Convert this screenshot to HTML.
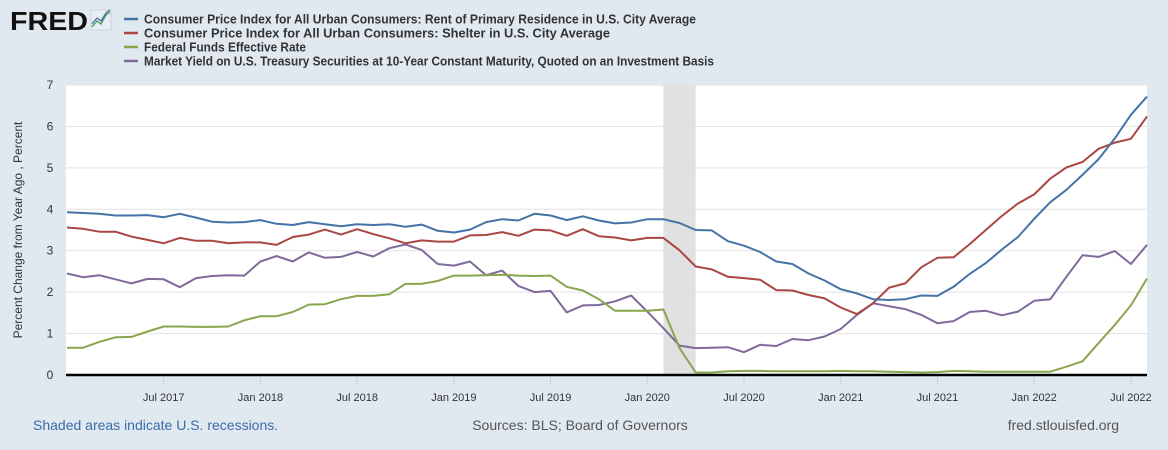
<!DOCTYPE html>
<html><head><meta charset="utf-8">
<style>
body{margin:0;background:#e1e9f0;font-family:"Liberation Sans",sans-serif;}
svg{display:block}
</style></head>
<body>
<svg id="chart" width="1168" height="450" xmlns="http://www.w3.org/2000/svg" font-family="Liberation Sans, sans-serif">
  <rect width="1168" height="450" fill="#e1e9f0"/>
  <g>
    <text x="10" y="30" font-size="26" font-weight="bold" fill="#111" textLength="78" lengthAdjust="spacingAndGlyphs">FRED</text>
    <rect x="91" y="10" width="20" height="20" fill="#e8eef3" stroke="#c8d2dc"/>
    <polyline points="92,27 97,21 101,24 106,15 110,12" fill="none" stroke="#4a9a5a" stroke-width="1.3"/>
    <polyline points="92,24 97,18 101,21 106,13 110,10" fill="none" stroke="#4572a7" stroke-width="1.3"/>
  </g>
  <g id="legend"></g>
  <rect x="66" y="85" width="1081" height="290" fill="#fff"/>
  <g id="grid"></g>
  <g id="recession"></g>
  <g id="series"></g>
  <line x1="66" x2="1147" y1="375" y2="375" stroke="#000" stroke-width="2.5"/>
  <g id="xticks"></g>
  <g id="yticks"></g>
  <text transform="translate(22,230) rotate(-90)" text-anchor="middle" font-size="12" fill="#333">Percent Change from Year Ago , Percent</text>
  <text x="33" y="430" font-size="14" fill="#3c6aa8">Shaded areas indicate U.S. recessions.</text>
  <text x="580" y="430" text-anchor="middle" font-size="14" fill="#555">Sources: BLS; Board of Governors</text>
  <text x="1119" y="430" text-anchor="end" font-size="14" fill="#555">fred.stlouisfed.org</text>
</svg>
<script>
const rent = [3.93,3.91,3.89,3.85,3.85,3.86,3.81,3.89,3.80,3.70,3.68,3.69,3.74,3.65,3.62,3.69,3.64,3.59,3.64,3.62,3.64,3.58,3.63,3.48,
3.44,3.51,3.69,3.76,3.73,3.89,3.85,3.74,3.83,3.73,3.66,3.68,3.76,3.76,3.67,3.50,3.49,3.23,3.12,2.97,2.74,
2.68,2.45,2.28,2.07,1.97,1.83,1.81,1.83,1.92,1.91,2.13,2.44,2.70,3.03,3.33,3.77,4.17,4.47,4.83,5.21,5.71,6.28,6.72];
const shelter = [3.56,3.53,3.46,3.46,3.34,3.26,3.18,3.31,3.24,3.24,3.18,3.20,3.20,3.14,3.33,3.39,3.51,3.39,3.52,3.40,3.30,3.18,3.25,3.22,
3.22,3.37,3.38,3.45,3.36,3.51,3.49,3.36,3.52,3.35,3.32,3.25,3.31,3.31,3.01,2.62,2.55,2.37,2.34,2.30,2.05,
2.04,1.93,1.85,1.63,1.47,1.73,2.11,2.21,2.60,2.83,2.84,3.16,3.50,3.84,4.14,4.36,4.74,5.01,5.14,5.46,5.61,5.70,6.24];
const fedFunds = [0.66,0.66,0.80,0.91,0.92,1.05,1.17,1.17,1.16,1.16,1.17,1.32,1.42,1.42,1.52,1.70,1.71,1.83,1.91,1.91,1.95,2.20,2.20,2.27,
2.40,2.40,2.41,2.42,2.40,2.39,2.40,2.13,2.04,1.83,1.55,1.55,1.55,1.58,0.65,0.06,0.06,0.09,0.10,0.10,0.09,0.09,0.09,
0.09,0.10,0.09,0.09,0.08,0.07,0.06,0.07,0.10,0.09,0.08,0.08,0.08,0.08,0.08,0.20,0.33,0.77,1.21,1.68,2.33];
const treasury = [2.45,2.36,2.41,2.31,2.21,2.32,2.31,2.12,2.34,2.39,2.41,2.40,2.74,2.87,2.74,2.96,2.83,2.85,2.97,2.86,3.06,3.15,3.02,2.68,
2.64,2.74,2.41,2.52,2.15,2.00,2.03,1.51,1.68,1.69,1.78,1.92,1.53,1.13,0.71,0.65,0.66,0.67,0.55,0.73,0.70,
0.87,0.84,0.93,1.11,1.45,1.73,1.66,1.59,1.45,1.25,1.30,1.52,1.55,1.44,1.53,1.79,1.83,2.37,2.89,2.85,2.99,2.68,3.14];
const xTickLabels = ["Jul 2017","Jan 2018","Jul 2018","Jan 2019","Jul 2019","Jan 2020","Jul 2020","Jan 2021","Jul 2021","Jan 2022","Jul 2022"];
const xTickMonths = [6,12,18,24,30,36,42,48,54,60,66];
const yTicks = [0,1,2,3,4,5,6,7];
const recessionMonths = [37,39];
const legendLabels = ["Consumer Price Index for All Urban Consumers: Rent of Primary Residence in U.S. City Average",
"Consumer Price Index for All Urban Consumers: Shelter in U.S. City Average",
"Federal Funds Effective Rate",
"Market Yield on U.S. Treasury Securities at 10-Year Constant Maturity, Quoted on an Investment Basis"];

const NS="http://www.w3.org/2000/svg";
const X0=67, DX=1080/67, Y0=375, DY=41.43;
function xs(i){return X0+i*DX;}
function ys(v){return Y0-v*DY;}
function mk(tag,attrs,parent){const e=document.createElementNS(NS,tag);for(const k in attrs)e.setAttribute(k,attrs[k]);parent.appendChild(e);return e;}

const grid=document.getElementById('grid');
const yt=document.getElementById('yticks');
yTicks.forEach(v=>{
  if(v>0){const g=mk('line',{x1:66,x2:1147,y1:ys(v),y2:ys(v),stroke:'#e2e2e2','stroke-width':1},grid);
  
  }
  const t=mk('text',{x:50,y:ys(v)+4,'text-anchor':'middle','font-size':12,fill:'#333'},yt);
  t.textContent=v;
  
  
});
const rec=document.getElementById('recession');
const rr=mk('rect',{x:xs(recessionMonths[0]),y:85,width:xs(recessionMonths[1])-xs(recessionMonths[0]),height:290,fill:'#e1e1e1'},rec);



const xt=document.getElementById('xticks');
xTickMonths.forEach((m,k)=>{
  const l=mk('line',{x1:xs(m),x2:xs(m),y1:377,y2:385,stroke:'#c0d0e0'},xt);
  
  
  const t=mk('text',{x:xs(m),y:401,'text-anchor':'middle','font-size':11,fill:'#333'},xt);
  t.textContent=xTickLabels[k];
  
  
});

const colors=['#4572a7','#aa4643','#89a54e','#80699b'];
const seriesData=[rent,shelter,fedFunds,treasury];
const names=['rent-line','shelter-line','fed-funds-line','treasury-line'];
const sg=document.getElementById('series');
[3,2,1,0].forEach(s=>{
  const pts=seriesData[s].map((v,i)=>xs(i).toFixed(1)+','+ys(v).toFixed(1)).join(' ');
  const p=mk('polyline',{points:pts,fill:'none',stroke:colors[s],'stroke-width':2,'stroke-linejoin':'round'},sg);
  
  
});

const lg=document.getElementById('legend');
const lw=[552,466,162,570];
legendLabels.forEach((lab,k)=>{
  const y=19+k*14;
  const sw=mk('line',{x1:124,x2:138,y1:y,y2:y,stroke:colors[k],'stroke-width':2.5},lg);
  
  
  const t=mk('text',{x:144,y:y+4.5,'font-size':12.5,'font-weight':'bold',fill:'#333',textLength:lw[k],lengthAdjust:'spacingAndGlyphs'},lg);
  t.textContent=lab;
  
  
});
</script>
</body></html>
